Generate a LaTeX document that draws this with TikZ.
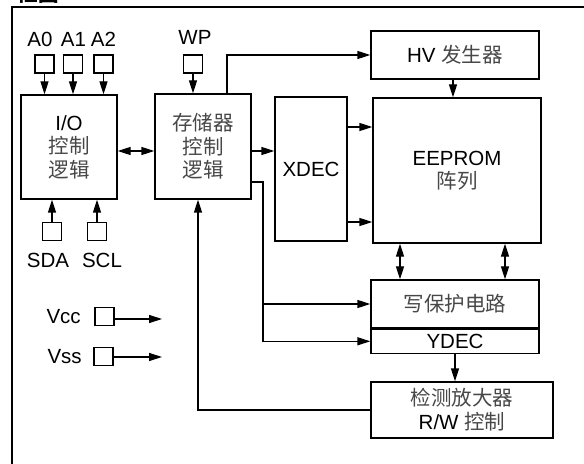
\documentclass[tikz,border=0pt]{standalone}
\usepackage{fontspec}
\setmainfont{Liberation Sans}
\newfontfamily\cjk{Noto Sans CJK SC}
\newcommand\zh[1]{{\cjk\color{black!72}#1}}
\usetikzlibrary{arrows.meta,positioning}

\begin{document}
\begin{tikzpicture}[x=1bp, y=-1bp, line width=1.3bp,
    >={Triangle[length=13bp,width=8bp]},
    font=\fontsize{20.5bp}{23.5bp}\selectfont,
    blk/.style={draw, inner sep=0pt, align=center},
    pin/.style={draw, inner sep=0pt, minimum width=19bp, minimum height=18bp},
    lbl/.style={inner sep=1bp}]
    \useasboundingbox (0,0) rectangle (584,464);
    % Outer frame and title
    \draw (12,464) -- (12,7) -- (584,7);
    \node[anchor=base west, font=\fontsize{20.5bp}{23.5bp}\selectfont\cjk\bfseries] (title) at (14,2) {框图};
    % Pins
    \node[pin] (a0) at (44.5,64) {};
    \node[pin] (a1) at (73,64) {};
    \node[pin] (a2) at (103.5,64) {};
    \node[pin] (wp) at (193,64) {};
    \node[pin] (sda) at (52,231.5) {};
    \node[pin] (scl) at (97,231.5) {};
    \node[pin] (vcc) at (104.5,316.5) {};
    \node[pin] (vss) at (103.5,356.5) {};
    \node[lbl] (a0l) at (40,39) {A0};
    \node[lbl] (a1l) at (73.5,39) {A1};
    \node[lbl] (a2l) at (103.5,39) {A2};
    \node[lbl] (wpl) at (195,37) {WP};
    \node[lbl] (sdal) at (48,260) {SDA};
    \node[lbl] (scll) at (102,260) {SCL};
    \node[lbl, left=12bp of vcc] (vccl) {Vcc};
    \node[lbl, left=10bp of vss] (vssl) {Vss};
    % Blocks
    \node[blk, minimum width=96bp, minimum height=104bp] (io) at (69,147) {I/O\\\zh{控制}\\\zh{逻辑}};
    \node[blk, minimum width=96bp, minimum height=105bp] (mem) at (203,146.5) {\zh{存储器}\\\zh{控制}\\\zh{逻辑}};
    \node[blk, minimum width=168bp, minimum height=48bp] (hv) at (455,55) {HV \zh{发生器}};
    \node[blk, minimum width=72bp, minimum height=144bp] (xdec) at (311,169) {XDEC};
    \node[blk, minimum width=168bp, minimum height=145bp] (arr) at (457,170.5) {EEPROM\\\zh{阵列}};
    \node[blk, minimum width=168bp, minimum height=48bp] (wpc) at (455,304) {\zh{写保护电路}};
    \node[blk, minimum width=168bp, minimum height=24bp, below=0pt of wpc] (ydec) {YDEC};
    \node[blk, minimum width=182bp, minimum height=56bp, font=\fontsize{20.5bp}{24bp}\selectfont] (sense) at (462,410) {\zh{检测放大器}\\R/W \zh{控制}};
    % Pin connectors
    \foreach \p in {a0,a1,a2} \draw[->] (\p.south) -- (\p.south |- io.north);
    \draw[->] (wp.south) -- (wp.south |- mem.north);
    \foreach \p in {sda,scl} \draw[->] (\p.north) -- (\p.north |- io.south);
    \coordinate (vccend) at (162,319);
    \coordinate (vssend) at (162,357);
    \draw[->] (vcc.east |- vccend) -- (vccend);
    \draw[->] (vss.east |- vssend) -- (vssend);
    % Block connectors
    \draw[<->] (io.east |- 0,151) -- (mem.west |- 0,151);
    \draw[->] (mem.east |- 0,151) -- (xdec.west |- 0,151);
    \draw[->] (mem.north -| 227,0) |- (hv.west);
    \draw[->] (hv.south -| 453,0) -- (arr.north -| 453,0);
    \draw[->] (xdec.east |- 0,127) -- (arr.west |- 0,127);
    \draw[->] (xdec.east |- 0,222) -- (arr.west |- 0,222);
    \draw[<->] (arr.south -| 400,0) -- (wpc.north -| 400,0);
    \draw[<->] (arr.south -| 505,0) -- (wpc.north -| 505,0);
    \coordinate (bus) at (263,182);
    \draw[->] (mem.east |- bus) -- (bus) |- (ydec.west);
    \draw[->] (bus |- wpc.west) -- (wpc.west);
    \draw[->] (ydec.south) -- (ydec.south |- sense.north);
    \draw[->] (sense.west) -| (mem.south -| 198,0);
\end{tikzpicture}
\end{document}
